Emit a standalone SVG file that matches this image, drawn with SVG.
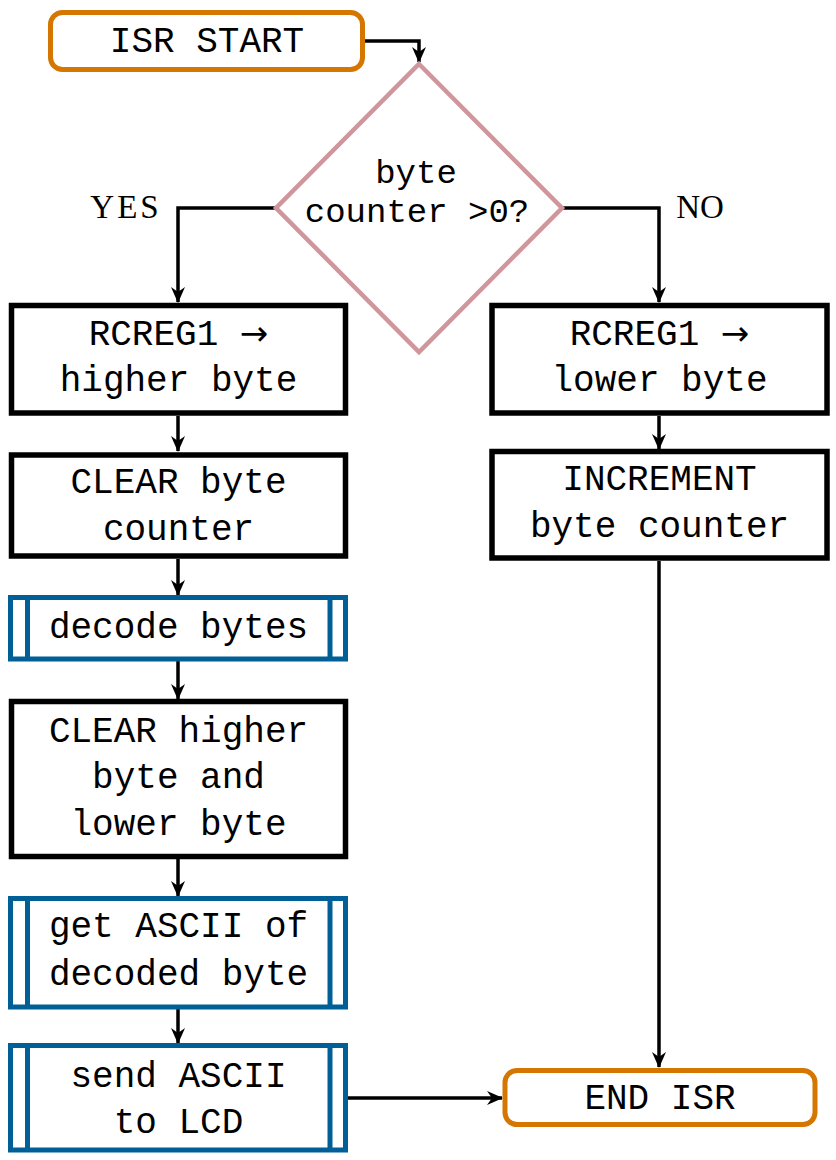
<svg xmlns="http://www.w3.org/2000/svg" width="836" height="1160" viewBox="0 0 836 1160">
  <style>
    .t { font-family: "Liberation Mono", "Courier New", monospace; font-size: 36px; fill: #000; text-anchor: middle; }
    .td { font-size: 34px; }
    .ar { font-family: "DejaVu Sans", sans-serif; font-size: 34px; }
    .lbl { font-family: "Liberation Serif", "Times New Roman", serif; font-size: 33px; fill: #000; text-anchor: middle; }
    .proc { fill: #fff; stroke: #000; stroke-width: 5.5; }
    .sub { fill: #fff; stroke: #005f96; stroke-width: 5; }
    .subl { fill: none; stroke: #005f96; stroke-width: 5; }
    .term { fill: #fff; stroke: #d47600; stroke-width: 5; }
    .dec { fill: #fff; stroke: #d0969c; stroke-width: 4.5; }
    .edge { fill: none; stroke: #000; stroke-width: 3.5; marker-end: url(#arr); }
  </style>
  <defs>
    <marker id="arr" viewBox="0 0 16 14" refX="15" refY="7" markerWidth="16" markerHeight="14" markerUnits="userSpaceOnUse" orient="auto">
      <path d="M0,0 L16,7 L0,14 L5,7 Z" fill="#000"/>
    </marker>
  </defs>
  <rect width="836" height="1160" fill="#fff"/>

  <g id="connectors">
    <path class="edge" d="M365,41 L419,41 L419,62"/>
    <path class="edge" d="M276,208 L178,208 L178,302"/>
    <path class="edge" d="M562,208 L659,208 L659,302"/>
    <path class="edge" d="M178,416 L178,451"/>
    <path class="edge" d="M178,559 L178,595"/>
    <path class="edge" d="M178,661 L178,699"/>
    <path class="edge" d="M178,859 L178,896"/>
    <path class="edge" d="M178,1009 L178,1043"/>
    <path class="edge" d="M659,416 L659,449"/>
    <path class="edge" d="M659,561 L659,1067"/>
    <path class="edge" d="M348,1098 L502,1098"/>
  </g>

  <g id="isr-start">
    <rect class="term" x="50.5" y="12.5" width="312" height="57" rx="12"/>
    <text class="t" x="207" y="52">ISR START</text>
  </g>

  <g id="decision">
    <polygon class="dec" points="419,64 562,208 419,352 276,208"/>
    <text class="t td" x="416" y="183">byte</text>
    <text class="t td" x="417" y="222">counter &gt;0?</text>
  </g>

  <g id="label-yes"><text class="lbl" x="126" y="218" letter-spacing="3">YES</text></g>
  <g id="label-no"><text class="lbl" x="700" y="218">NO</text></g>

  <g id="higher-byte">
    <rect class="proc" x="11.5" y="305.5" width="334" height="107.5"/>
    <text class="t" x="178.5" y="345">RCREG1 <tspan class="ar">→</tspan></text>
    <text class="t" x="178.5" y="391">higher byte</text>
  </g>

  <g id="clear-counter">
    <rect class="proc" x="11.5" y="455" width="334" height="101"/>
    <text class="t" x="178.5" y="493">CLEAR byte</text>
    <text class="t" x="178.5" y="540">counter</text>
  </g>

  <g id="decode-bytes">
    <rect class="sub" x="10.5" y="597.5" width="335" height="61.5"/>
    <line class="subl" x1="27.5" y1="597.5" x2="27.5" y2="659"/>
    <line class="subl" x1="330" y1="597.5" x2="330" y2="659"/>
    <text class="t" x="178.5" y="638">decode bytes</text>
  </g>

  <g id="clear-bytes">
    <rect class="proc" x="11.5" y="701.5" width="334" height="155"/>
    <text class="t" x="178.5" y="742">CLEAR higher</text>
    <text class="t" x="178.5" y="788">byte and</text>
    <text class="t" x="178.5" y="835">lower byte</text>
  </g>

  <g id="get-ascii">
    <rect class="sub" x="10.5" y="898.5" width="335" height="108.5"/>
    <line class="subl" x1="27.5" y1="898.5" x2="27.5" y2="1007"/>
    <line class="subl" x1="330" y1="898.5" x2="330" y2="1007"/>
    <text class="t" x="178.5" y="937">get ASCII of</text>
    <text class="t" x="178.5" y="985">decoded byte</text>
  </g>

  <g id="send-ascii">
    <rect class="sub" x="10.5" y="1045.5" width="335" height="104.5"/>
    <line class="subl" x1="27.5" y1="1045.5" x2="27.5" y2="1150"/>
    <line class="subl" x1="330" y1="1045.5" x2="330" y2="1150"/>
    <text class="t" x="178.5" y="1087">send ASCII</text>
    <text class="t" x="178.5" y="1133">to LCD</text>
  </g>

  <g id="lower-byte">
    <rect class="proc" x="492" y="305.5" width="335" height="107.5"/>
    <text class="t" x="659.5" y="345">RCREG1 <tspan class="ar">→</tspan></text>
    <text class="t" x="659.5" y="391">lower byte</text>
  </g>

  <g id="increment-counter">
    <rect class="proc" x="492" y="451.5" width="335" height="106.5"/>
    <text class="t" x="659.5" y="490">INCREMENT</text>
    <text class="t" x="659.5" y="537">byte counter</text>
  </g>

  <g id="end-isr">
    <rect class="term" x="505" y="1070.5" width="310" height="54" rx="12"/>
    <text class="t" x="660" y="1109">END ISR</text>
  </g>
</svg>
